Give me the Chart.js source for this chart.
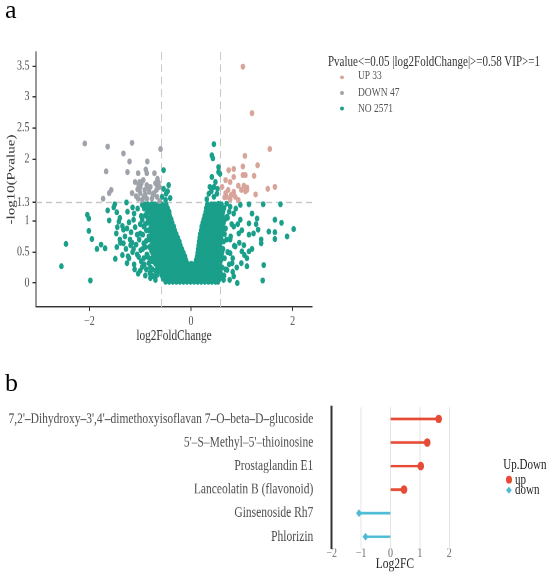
<!DOCTYPE html>
<html><head><meta charset="utf-8">
<script src="https://cdn.jsdelivr.net/npm/chart.js@4.4.1/dist/chart.umd.min.js"></script>
<style>
html,body{margin:0;padding:0;background:#fff;width:550px;height:577px;overflow:hidden;font-family:"Liberation Serif",serif;}
#stage{position:absolute;left:0;top:0;width:550px;height:444px;transform:scaleY(1.3);transform-origin:0 0;}
#wa{position:absolute;left:0;top:0;width:330px;height:269px;max-width:330px;max-height:269px;}
#wb{position:absolute;left:0;top:300px;width:550px;height:144px;max-width:550px;max-height:144px;}
.t{position:absolute;white-space:nowrap;line-height:1;}
.dot{position:absolute;border-radius:50%;}
</style></head><body>
<div id="stage">
  <div id="wa"><canvas id="ca"></canvas></div>
  <div id="wb"><canvas id="cb"></canvas></div>
  <div class="t" style="left:328px;top:42.3px;font-size:11px;color:#333">Pvalue&lt;=0.05 |log2FoldChange|&gt;=0.58 VIP&gt;=1</div>
  <div class="dot" style="left:339.8px;top:57.5px;width:4.5px;height:3.5px;background:#D8A398"></div>
  <div class="t" style="left:358px;top:54.4px;font-size:9.5px;color:#555">UP 33</div>
  <div class="dot" style="left:339.8px;top:69.8px;width:4.5px;height:3.5px;background:#9EA2AA"></div>
  <div class="t" style="left:358px;top:66.7px;font-size:9.5px;color:#555">DOWN 47</div>
  <div class="dot" style="left:339.8px;top:81.8px;width:4.5px;height:3.5px;background:#1A9F8A"></div>
  <div class="t" style="left:358px;top:78.7px;font-size:9.5px;color:#555">NO 2571</div>

  <div class="t" style="left:503.3px;top:352.4px;font-size:11px;color:#222">Up.Down</div>
  <div class="dot" style="left:506px;top:365.5px;width:6px;height:6px;background:#E64B35"></div>
  <div class="t" style="left:515px;top:362.8px;font-size:11px;color:#222">up</div>
  <div style="position:absolute;left:507.1px;top:375px;width:3.8px;height:3.8px;background:#4DBBD5;transform:rotate(45deg)"></div>
  <div class="t" style="left:515px;top:371.2px;font-size:11px;color:#222">down</div>
</div>
<div class="t" style="left:5px;top:-3.5px;font-size:26px;color:#000">a</div>
<div class="t" style="left:5px;top:370.2px;font-size:26px;color:#000">b</div>
<script>
// ---------- Panel a: volcano data ----------
const upPts = [[1.02,3.49],[1.20,2.74],[1.55,2.16],[1.06,2.05],[1.31,1.90],[1.02,1.88],[0.84,1.84],[0.74,1.82],[1.24,1.73],[1.02,1.74],[1.07,1.74],[0.84,1.71],[0.68,1.66],[0.77,1.63],[0.61,1.55],[0.93,1.57],[1.04,1.57],[1.10,1.54],[1.07,1.48],[0.99,1.50],[0.73,1.50],[0.68,1.45],[0.84,1.47],[0.79,1.42],[0.70,1.39],[0.87,1.39],[0.93,1.34],[1.27,1.43],[1.51,1.52],[1.65,1.55],[0.66,1.38],[0.77,1.35],[1.10,1.50]];
const downPts = [[-2.09,2.25],[-1.64,2.20],[-1.16,2.26],[-1.33,2.09],[-1.21,1.96],[-0.86,1.96],[-0.60,2.16],[-1.67,1.80],[-1.25,1.79],[-1.04,1.77],[-0.89,1.83],[-0.87,1.77],[-0.72,1.77],[-1.01,1.63],[-0.94,1.66],[-1.03,1.58],[-1.00,1.54],[-0.87,1.58],[-0.70,1.61],[-0.67,1.58],[-0.64,1.62],[-0.91,1.50],[-1.00,1.45],[-0.82,1.47],[-0.68,1.50],[-1.57,1.50],[-1.61,1.45],[-1.73,1.36],[-1.04,1.36],[-0.96,1.34],[-0.87,1.36],[-0.77,1.36],[-0.93,1.39],[-0.73,1.45],[-0.67,1.39],[-0.62,1.55],[-1.05,1.51],[-0.80,1.55],[-1.10,1.63],[-1.16,1.45],[-0.75,1.42],[-0.90,1.43],[-0.98,1.60],[-0.62,1.32],[-0.83,1.52],[-1.08,1.40],[-0.66,1.68]];
const noScatter = [[0.45,2.24],[0.41,2.06],[0.43,2.01],[0.54,1.87],[0.54,1.79],[0.41,1.71],[0.48,1.63],[0.37,1.55],[0.45,1.55],[0.35,1.44],[0.51,1.44],[0.45,1.39],[0.31,1.35],[0.57,1.76],[0.40,1.48],[0.52,1.52],
[-0.54,1.82],[-0.44,1.58],[-0.54,1.52],[-0.49,1.44],[-0.57,1.39],[-0.41,1.37],[-0.50,1.34],[-0.46,1.48],
[-2.46,0.63],[-2.55,0.27],[-1.98,0.04],[-2.04,1.10],[-2.01,1.04],[-2.01,0.84],[-1.95,0.71],[-1.85,0.55],[-1.77,0.62],[-1.69,0.56],[-1.50,1.27],[-1.52,1.22],[-1.64,1.17],[-1.46,1.14],[-1.61,1.01],[-1.42,0.99],[-1.47,0.80],[-1.46,0.58],[-1.49,0.39],[-1.33,0.86],[-1.26,0.88],[-1.26,0.32],[-1.24,0.43],[-1.27,1.30],[-1.12,1.12],[-1.13,1.02],[-1.06,0.78],[-1.06,0.46],[-1.04,0.15],[-0.96,0.26],[-0.81,0.16],[-0.73,0.11],[-0.67,0.13],[-0.62,0.21],[-1.13,0.55],[-0.93,0.64],[-0.99,0.53],[-1.16,0.65],[-1.33,0.64],[-1.39,0.65],[-1.19,0.61],[-0.93,0.40],[-0.83,0.32],[-0.87,0.46],[-0.77,0.40],[-0.73,0.59],[-0.83,0.75],[-0.93,0.91],[-0.96,1.02],[-0.87,1.12],[-0.73,0.99],[-0.77,0.86],[-0.67,0.75],[-0.96,1.26],[-0.77,1.23],[-0.60,1.20],
[-1.40,1.05],[-1.35,0.92],[-1.30,0.75],[-1.22,0.98],[-1.20,0.70],[-1.18,0.82],[-1.15,0.50],[-1.10,0.90],[-1.08,0.62],[-1.05,1.20],[-1.03,0.42],[-1.00,0.80],[-0.98,1.08],[-0.95,0.55],[-0.92,0.30],[-0.90,0.95],[-0.88,0.68],[-0.86,0.45],[-0.84,1.25],[-0.82,0.58],[-0.80,0.35],[-0.78,1.12],[-0.76,0.22],[-1.28,0.55],[-1.35,0.45],[-1.22,0.40],[-1.12,0.30],[-1.00,0.20],[-0.90,0.12],[-1.40,0.70],[-1.25,1.15],[-1.15,1.22],[-1.45,0.90],[-1.11,0.22],[-0.80,0.08],[-0.70,0.05],
[-0.80,1.18],[-0.85,1.05],[-0.78,0.95],[-0.88,0.85],[-0.75,0.80],[-0.82,0.70],[-0.72,0.66],[-0.90,0.58],[-0.78,0.52],[-0.70,0.45],[-0.85,0.42],[-0.74,0.35],[-0.66,0.30],[-0.80,0.25],[-0.70,0.20],[-0.95,0.78],[-1.00,0.95],[-0.92,1.20],[-1.02,0.70],[-0.98,0.35],[-0.88,0.22],[-0.76,0.12],
[2.02,0.87],[1.89,0.75],[1.78,0.97],[1.65,1.02],[1.65,0.82],[1.65,0.71],[1.53,0.83],[1.32,0.86],[1.30,1.04],[1.42,1.27],[1.76,1.27],[1.14,1.27],[1.43,0.29],[1.41,0.04],[1.38,0.70],[1.38,0.64],[1.20,1.12],[1.14,0.96],[1.14,0.78],[1.14,0.51],[1.10,0.40],[1.10,0.27],[1.00,0.51],[0.99,0.32],[0.91,0.00],[0.84,0.11],[0.94,0.80],[0.97,1.02],[0.84,1.12],[0.97,1.26],[0.77,1.23],[0.71,1.07],[0.84,0.91],[0.77,0.70],[0.77,0.48],[0.81,0.32],[0.71,0.21],[0.64,0.05],[0.58,0.16],[0.87,0.59],[1.04,0.61],[1.23,0.80],[0.58,0.86],[0.58,0.48],[0.54,1.28],[0.58,1.12],
[0.70,1.28],[0.75,1.15],[0.72,1.05],[0.80,0.95],[0.78,0.75],[0.85,0.60],[0.72,0.50],[0.82,0.40],[0.75,0.30],[0.68,0.22],[0.88,1.20],[0.92,0.95],[0.95,0.65],[1.00,0.85],[1.05,0.45],[0.90,0.25],[0.70,0.70],[0.68,0.88],[0.66,0.40],[1.20,0.55],[1.28,0.95],[0.82,0.18],[0.76,0.05],[0.65,0.12]];
// dense cloud of non-significant features, read row by row: [y, [x values]]
const noDenseRows = [
[1.27,[-0.92,-0.85,-0.77,-0.71,-0.63,-0.57,-0.49, 0.32,0.40,0.46,0.53,0.60]],
[1.21,[-0.88,-0.80,-0.74,-0.66,-0.60,-0.52,-0.46, 0.30,0.37,0.45,0.51,0.58,0.65]],
[1.15,[-0.83,-0.76,-0.68,-0.62,-0.54,-0.48,-0.43, 0.29,0.36,0.43,0.50,0.57,0.63]],
[1.09,[-0.90,-0.78,-0.71,-0.64,-0.57,-0.50,-0.42, 0.27,0.34,0.41,0.49,0.55,0.62]],
[1.03,[-0.81,-0.73,-0.67,-0.59,-0.52,-0.45,-0.39, 0.25,0.32,0.39,0.46,0.53,0.60,0.67]],
[0.97,[-0.86,-0.76,-0.69,-0.62,-0.55,-0.48,-0.41,-0.37, 0.23,0.30,0.37,0.44,0.51,0.58,0.64]],
[0.91,[-0.79,-0.72,-0.65,-0.58,-0.51,-0.44,-0.37,-0.34, 0.21,0.28,0.35,0.42,0.49,0.56,0.62]],
[0.85,[-0.83,-0.74,-0.67,-0.60,-0.53,-0.46,-0.39,-0.32, 0.20,0.27,0.34,0.41,0.48,0.55,0.61]],
[0.79,[-0.77,-0.70,-0.63,-0.56,-0.49,-0.42,-0.35,-0.29, 0.18,0.25,0.32,0.39,0.46,0.53,0.60,0.66]],
[0.73,[-0.80,-0.72,-0.65,-0.58,-0.51,-0.44,-0.37,-0.30,-0.26, 0.17,0.24,0.31,0.38,0.45,0.52,0.59]],
[0.67,[-0.75,-0.68,-0.61,-0.54,-0.47,-0.40,-0.33,-0.26,-0.23, 0.16,0.23,0.30,0.37,0.44,0.51,0.58,0.64]],
[0.61,[-0.78,-0.70,-0.63,-0.56,-0.49,-0.42,-0.35,-0.28,-0.21, 0.15,0.22,0.29,0.36,0.43,0.50,0.57]],
[0.55,[-0.73,-0.66,-0.59,-0.52,-0.45,-0.38,-0.31,-0.24,-0.18, 0.14,0.21,0.28,0.35,0.42,0.49,0.56,0.63]],
[0.49,[-0.76,-0.68,-0.61,-0.54,-0.47,-0.40,-0.33,-0.26,-0.19,-0.15, 0.13,0.20,0.27,0.34,0.41,0.48,0.55,0.61]],
[0.43,[-0.71,-0.64,-0.57,-0.50,-0.43,-0.36,-0.29,-0.22,-0.15,-0.12, 0.12,0.19,0.26,0.33,0.40,0.47,0.54,0.60]],
[0.37,[-0.74,-0.66,-0.59,-0.52,-0.45,-0.38,-0.31,-0.24,-0.17,-0.10, 0.10,0.17,0.24,0.31,0.38,0.45,0.52,0.59]],
[0.31,[-0.70,-0.62,-0.55,-0.48,-0.41,-0.34,-0.27,-0.20,-0.13,-0.06,0.01,0.08,0.15,0.22,0.29,0.36,0.43,0.50,0.57]],
[0.25,[-0.66,-0.58,-0.51,-0.44,-0.37,-0.30,-0.23,-0.16,-0.09,-0.02,0.05,0.12,0.19,0.26,0.33,0.40,0.47,0.54,0.61]],
[0.19,[-0.62,-0.55,-0.48,-0.41,-0.34,-0.27,-0.20,-0.13,-0.06,0.01,0.08,0.15,0.22,0.29,0.36,0.43,0.50,0.57]],
[0.13,[-0.58,-0.51,-0.44,-0.37,-0.30,-0.23,-0.16,-0.09,-0.02,0.05,0.12,0.19,0.26,0.33,0.40,0.47,0.54,0.60]],
[0.07,[-0.55,-0.48,-0.41,-0.34,-0.27,-0.20,-0.13,-0.06,0.01,0.08,0.15,0.22,0.29,0.36,0.43,0.50,0.56]],
[0.02,[-0.50,-0.43,-0.36,-0.29,-0.22,-0.15,-0.08,-0.01,0.06,0.13,0.20,0.27,0.34,0.41,0.48,0.53]]
];
const volcanoXTicks = [-2, 0, 2];
const volcanoXTickLabels = ['\u22122', '0', '2'];
const volcanoYTicks = [0, 0.5, 1, 1.3, 2, 2.5, 3, 3.5];
const fcCut = [-0.58, 0.58];
const pCut = [1.3];

// ---------- Panel b: lollipop data ----------
const compounds = ["7,2'\u2013Dihydroxy\u20133',4'\u2013dimethoxyisoflavan 7\u2013O\u2013beta\u2013D\u2013glucoside","5'\u2013S\u2013Methyl\u20135'\u2013thioinosine","Prostaglandin E1","Lanceolatin B (flavonoid)","Ginsenoside Rh7","Phlorizin"];
const log2FC = [1.64, 1.25, 1.03, 0.46, -1.07, -0.85];
const direction = ['up','up','up','up','down','down'];
const lolliXTicks = [-2, -1, 0, 1, 2];
const lolliXTickLabels = ['\u22122', '\u22121', '0', '1', '2'];

// ---------- build ----------
const FONT = '"Liberation Serif", "Times New Roman", serif';
const toXY = arr => arr.map(p => ({x: p[0], y: p[1]}));
const noAll = noScatter.concat(noDenseRows.flatMap(r => r[1].map(x => [x, r[0]])));

const dashPlugin = {
  id: 'dashRefs',
  beforeDatasetsDraw(c) {
    const {ctx, chartArea: a, scales: {x, y}} = c;
    ctx.save();
    ctx.strokeStyle = '#c8c8c8';
    ctx.lineWidth = 1;
    ctx.setLineDash([6, 3.5]);
    fcCut.forEach(v => { const px = x.getPixelForValue(v); ctx.beginPath(); ctx.moveTo(px, a.top); ctx.lineTo(px, a.bottom); ctx.stroke(); });
    ctx.setLineDash([6, 4]);
    pCut.forEach(v => { const py = y.getPixelForValue(v); ctx.beginPath(); ctx.moveTo(a.left, py); ctx.lineTo(a.right, py); ctx.stroke(); });
    ctx.restore();
  }
};

new Chart(document.getElementById('ca'), {
  type: 'scatter',
  data: { datasets: [
    {label: 'UP', data: toXY(upPts), backgroundColor: '#D8A398', borderWidth: 0, pointRadius: 2.3},
    {label: 'DOWN', data: toXY(downPts), backgroundColor: '#9EA2AA', borderWidth: 0, pointRadius: 2.3},
    {label: 'NO', data: toXY(noAll), backgroundColor: '#1A9F8A', borderWidth: 0, pointRadius: 2.3}
  ]},
  options: {
    responsive: true, maintainAspectRatio: false, animation: false, devicePixelRatio: 2,
    layout: {padding: {top: 40, right: 18, left: 0, bottom: 0}, autoPadding: false},
    plugins: {legend: {display: false}, tooltip: {enabled: false}},
    scales: {
      x: {
        type: 'linear', min: -3.05, max: 2.38,
        afterBuildTicks: s => { s.ticks = volcanoXTicks.map(v => ({value: v})); },
        afterFit: s => { s.height = 32.85; },
        grid: {display: true, drawOnChartArea: false, drawTicks: true, tickLength: 3, color: '#333'},
        border: {display: true, color: '#333', width: 1},
        ticks: {font: {family: FONT, size: 10}, color: '#4d4d4d', padding: 2, maxRotation: 0,
          callback: (v) => volcanoXTickLabels[volcanoXTicks.indexOf(v)]},
        title: {display: true, text: 'log2FoldChange', font: {family: FONT, size: 11.3}, color: '#333', padding: {top: 0, bottom: 3.7}}
      },
      y: {
        type: 'linear', min: -0.387, max: 3.726,
        afterBuildTicks: s => { s.ticks = volcanoYTicks.map(v => ({value: v})); },
        afterFit: s => { s.width = 36; },
        grid: {display: true, drawOnChartArea: false, drawTicks: true, tickLength: 3.5, color: '#333'},
        border: {display: true, color: '#333', width: 1},
        ticks: {font: {family: FONT, size: 10}, color: '#4d4d4d', padding: 3, callback: v => String(v)},
        title: {display: true, text: '-log10(Pvalue)', font: {family: FONT, size: 11.5}, color: '#333', padding: {top: 4.8, bottom: 0}}
      }
    }
  },
  plugins: [dashPlugin]
});

const RED = '#E64B35', CYAN = '#4DBBD5';
new Chart(document.getElementById('cb'), {
  type: 'bar',
  data: {
    labels: compounds,
    datasets: [
      {type: 'line', label: 'up', indexAxis: 'y', showLine: false, order: 0,
       data: log2FC.map((v, i) => direction[i] === 'up' ? v : null),
       pointStyle: 'circle', pointRadius: 3.3, backgroundColor: RED, borderColor: RED, borderWidth: 0},
      {type: 'line', label: 'down', indexAxis: 'y', showLine: false, order: 0,
       data: log2FC.map((v, i) => direction[i] === 'down' ? v : null),
       pointStyle: 'rectRot', pointRadius: 3.0, backgroundColor: CYAN, borderColor: CYAN, borderWidth: 0},
      {type: 'bar', label: 'stem', indexAxis: 'y', order: 1,
       data: log2FC.map(v => [0, v]),
       backgroundColor: direction.map(d => d === 'up' ? RED : CYAN), barThickness: 1.3}
    ]
  },
  options: {
    indexAxis: 'y',
    responsive: true, maintainAspectRatio: false, animation: false, devicePixelRatio: 2,
    layout: {padding: {top: 13.2, right: 91.9, left: 0, bottom: 0}, autoPadding: false},
    plugins: {legend: {display: false}, tooltip: {enabled: false}},
    scales: {
      x: {
        type: 'linear', min: -2, max: 2.3,
        afterBuildTicks: s => { s.ticks = lolliXTicks.map(v => ({value: v})); },
        afterFit: s => { s.height = 22.1; s.paddingLeft = 0; s.paddingRight = 0; },
        grid: {display: true, drawTicks: false, color: '#e4e4e4', lineWidth: 1},
        border: {display: false},
        ticks: {font: {family: FONT, size: 10}, color: '#666', padding: -2, maxRotation: 0,
          callback: (v) => lolliXTickLabels[lolliXTicks.indexOf(v)]},
        title: {display: true, text: 'Log2FC', font: {family: FONT, size: 11.5}, color: '#222', padding: {top: 0, bottom: 3}}
      },
      y: {
        type: 'category',
        afterFit: s => { s.width = 331.7; s.paddingTop = 0; s.paddingBottom = 0; },
        grid: {display: false, drawTicks: false},
        border: {display: true, color: '#333', width: 2},
        ticks: {font: {family: FONT, size: 11.5}, color: '#4d4d4d', padding: 18.4, autoSkip: false}
      }
    }
  }
});
</script>
</body></html>
